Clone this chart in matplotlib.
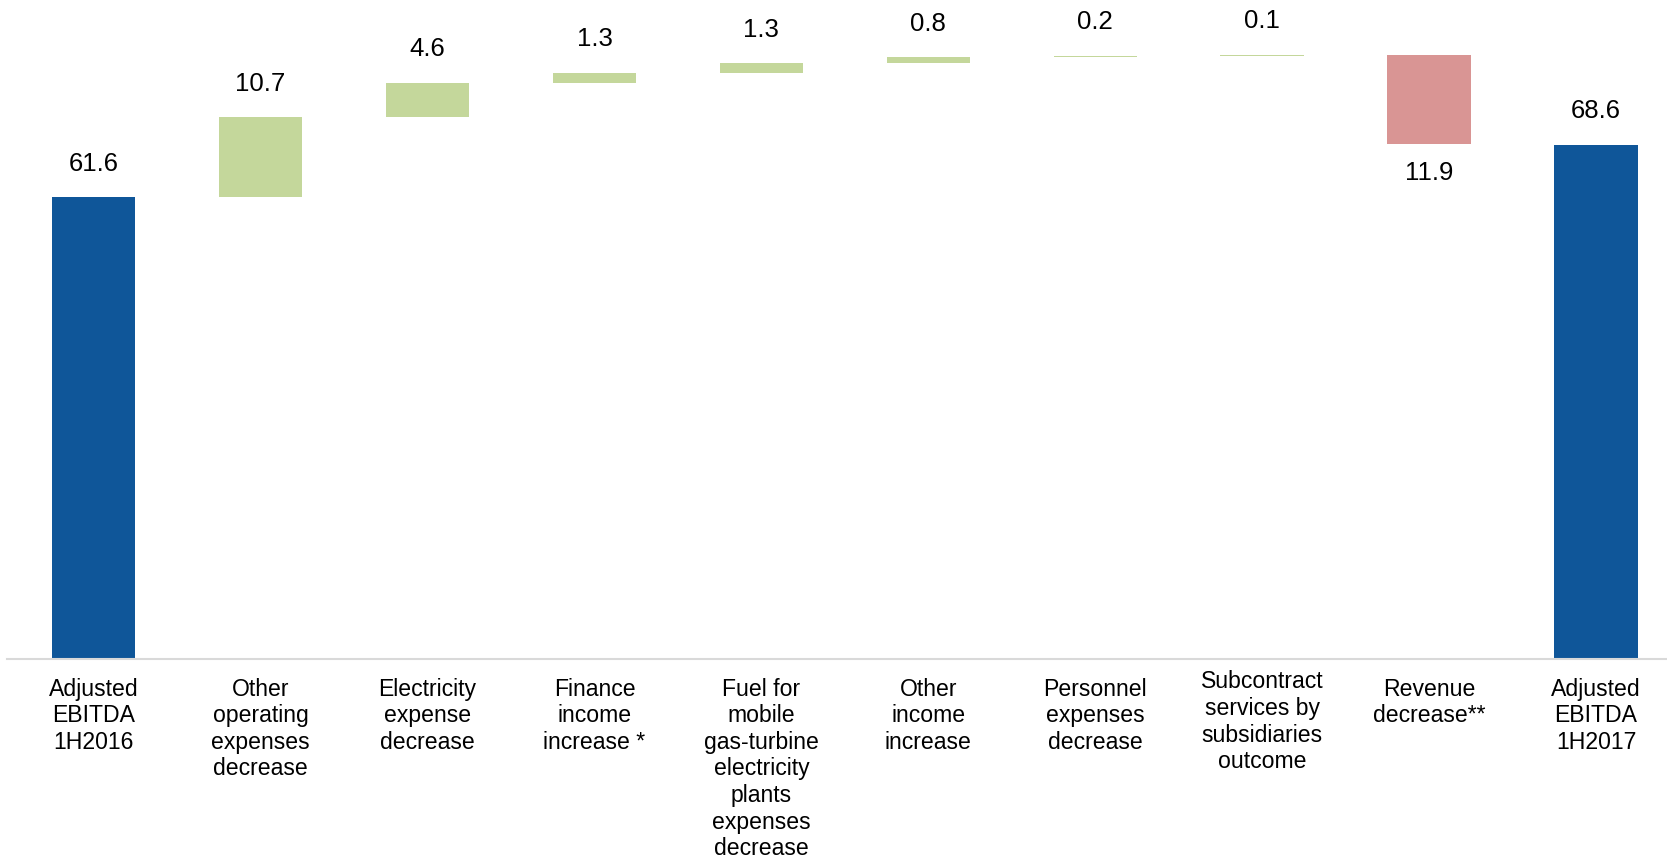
import numpy as np
import matplotlib
matplotlib.use("Agg")
import matplotlib.pyplot as plt
from matplotlib.transforms import blended_transform_factory

plt.rcParams['font.family'] = ['Liberation Sans', 'DejaVu Sans']

# data
categories = ["Adjusted\nEBITDA\n1H2016",
              "Other\noperating\nexpenses\ndecrease",
              "Electricity\nexpense\ndecrease",
              "Finance\nincome\nincrease *",
              "Fuel for\nmobile\ngas-turbine\nelectricity\nplants\nexpenses\ndecrease",
              "Other\nincome\nincrease",
              "Personnel\nexpenses\ndecrease",
              "Subcontract\nservices by\nsubsidiaries\noutcome",
              "Revenue\ndecrease**",
              "Adjusted\nEBITDA\n1H2017"]
start_value = 61.6
changes = [10.7, 4.6, 1.3, 1.3, 0.8, 0.2, 0.1, -11.9]
end_value = 68.6

blue = "#0F5699"
green = "#C4D79B"
red = "#D99594"

fig = plt.figure(figsize=(16.67, 8.62), dpi=100)
ax = fig.add_axes([0.0042, 0.2345, 0.9958, 0.7655])

x = np.arange(len(categories))
width = 0.5

# totals
ax.bar(x[0], start_value, width, color=blue)
ax.bar(x[-1], end_value, width, color=blue)
ax.annotate(f"{start_value:.1f}", (x[0], start_value), xytext=(0, 25),
            textcoords="offset points", ha="center", va="center", fontsize=18.5)
ax.annotate(f"{end_value:.1f}", (x[-1], end_value), xytext=(0, 25),
            textcoords="offset points", ha="center", va="center", fontsize=18.5)

# floating steps
level = start_value
for i, d in enumerate(changes, start=1):
    bottom = level if d >= 0 else level + d
    ax.bar(x[i], abs(d), width, bottom=bottom, color=green if d >= 0 else red)
    if d >= 0:
        ax.annotate(f"{d:.1f}", (x[i], level + d), xytext=(0, 25),
                    textcoords="offset points", ha="center", va="center", fontsize=18.5)
    else:
        ax.annotate(f"{-d:.1f}", (x[i], level + d), xytext=(0, -20),
                    textcoords="offset points", ha="center", va="center", fontsize=18.5)
    level += d

ax.set_xlim(-0.519, 9.425)
ax.set_ylim(0, 88.1)

for s in ["top", "left", "right"]:
    ax.spines[s].set_visible(False)
ax.spines["bottom"].set_color("#D9D9D9")
ax.spines["bottom"].set_linewidth(1.5)
ax.set_yticks([])
ax.set_xticks([])

trans = blended_transform_factory(ax.transData, ax.transAxes)
for i, lab in enumerate(categories):
    dy = -0.027
    if lab.startswith("Subcontract"):
        dy = -0.016
    ax.text(x[i], dy, lab, transform=trans, ha="center", va="top",
            fontsize=16.6, linespacing=1.2)

fig.savefig("out.png", dpi=100)
